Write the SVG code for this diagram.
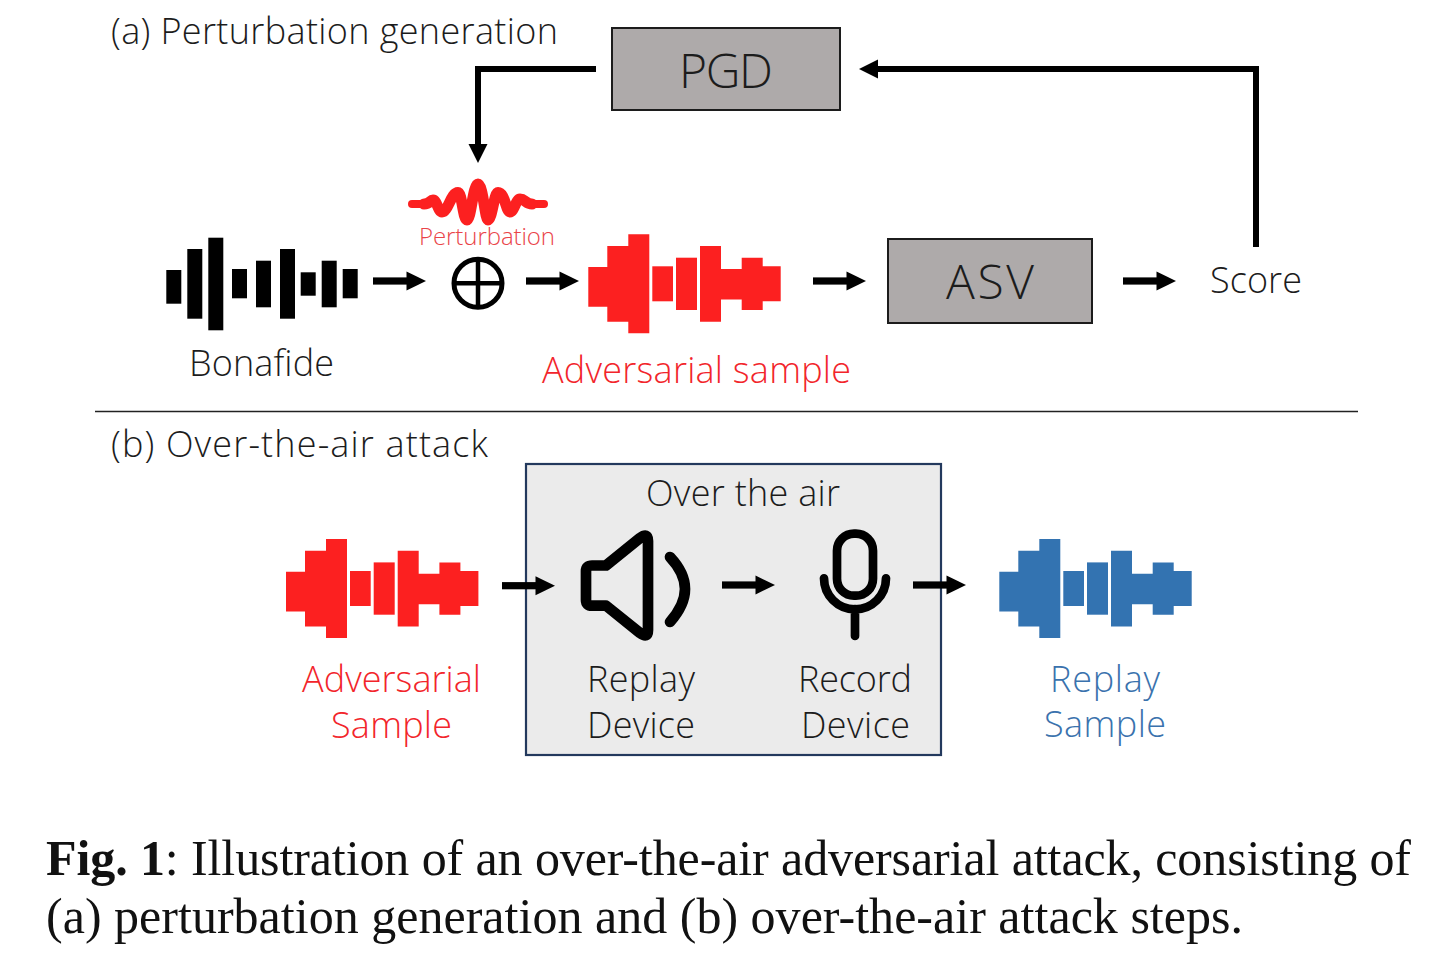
<svg xmlns="http://www.w3.org/2000/svg" xmlns:xlink="http://www.w3.org/1999/xlink" width="1444" height="964" viewBox="0 0 1444 964">
<style>
text{font-family:"Open Sans","Noto Sans","Liberation Sans",sans-serif;font-weight:300;font-size:36px;fill:#1c1c1c}
.r{fill:#f2252b}.b{fill:#3a72ad}
.cap{font-family:"Liberation Serif","Times New Roman",serif;font-weight:400;font-size:50px;fill:#111}
.cap .f{font-weight:700}
.box{fill:#aeaaaa;stroke:#1c1c1c;stroke-width:2}
.wire{fill:none;stroke:#000;stroke-width:6}
.ic{fill:none;stroke:#000;stroke-linecap:round;stroke-linejoin:round}
</style>
<defs>
<g id="wave">
<path d="M588.3,267H607.3V246H628.3V234.3H649.3V333.3H628.3V321.7H607.3V306.7H588.3Z"/>
<rect x="652.3" y="266.3" width="20.7" height="35"/>
<rect x="676" y="257.7" width="21" height="52.3"/>
<path d="M700,246H721V269H741.7V257.7H762.7V266.3H780.7V301.3H762.7V310H741.7V299.5H721V321.7H700Z"/>
</g>
<g id="arr"><rect x="0" y="-3.6" width="34" height="7.2"/><path d="M33.5,-9.5L53,0L33.5,9.5Z"/></g>
</defs>

<g id="connectors">
<path class="wire" d="M596,69H478V146"/>
<path d="M468.5,144H487.5L478,163Z"/>
<path class="wire" d="M1256,247V69H876"/>
<path d="M878,59.5V78.5L859,69Z"/>
<use href="#arr" x="373" y="281"/>
<use href="#arr" x="526" y="281"/>
<use href="#arr" x="813" y="281"/>
<use href="#arr" x="1123" y="281"/>
</g>

<g id="title-a"><text x="111" y="44" textLength="447">(a) Perturbation generation</text></g>
<g id="pgd"><rect class="box" x="612" y="28" width="228" height="82"/><text x="679" y="88" style="font-size:48px" textLength="94">PGD</text></g>
<g id="perturbation">
<path d="M412,204H428" fill="none" stroke="#fc2020" stroke-width="8" stroke-linecap="round"/>
<path d="M528,204H544" fill="none" stroke="#fc2020" stroke-width="8" stroke-linecap="round"/>
<path d="M424,204C430,204 430,200 433,200C437,200 438,212 442,212C448,212 451,192.5 458,192.5C462,192.5 463,220 467,220C471,220 473,184 478,184C483,184 485,220 488,220C492,220 494,192.5 498,192.5C505,192.5 506,212 510,212C514,212 516,199 520,199C525,199 526,204 532,204" fill="none" stroke="#fc2020" stroke-width="11" stroke-linecap="round" stroke-linejoin="round"/>
<text class="r" x="419" y="245" style="font-size:24px;fill:#ea4449" textLength="136">Perturbation</text>
</g>
<g id="bonafide">
<rect x="166.3" y="270" width="15" height="33.7"/>
<rect x="187.3" y="249" width="15" height="69.7"/>
<rect x="208.3" y="237.7" width="15" height="92.6"/>
<rect x="232" y="269" width="15" height="29.3"/>
<rect x="256" y="260.7" width="15" height="46.6"/>
<rect x="280" y="249" width="15" height="69.7"/>
<rect x="300.7" y="272.3" width="15" height="23.4"/>
<rect x="321.7" y="260.7" width="15" height="46.6"/>
<rect x="342.7" y="269" width="15" height="29.3"/>
<text x="189" y="376" textLength="145">Bonafide</text>
</g>
<g id="plus" class="ic">
<circle cx="478" cy="283.3" r="24" stroke-width="5"/>
<path d="M454,283.3H502M478,259.3V307.3" stroke-width="4.5" stroke-linecap="butt"/>
</g>
<g id="adversarial-a">
<use href="#wave" fill="#fc2020"/>
<text class="r" x="542" y="383" textLength="309">Adversarial sample</text>
</g>
<g id="asv"><rect class="box" x="888" y="239" width="204" height="84"/><text x="946" y="299" style="font-size:48px" textLength="88">ASV</text></g>
<g id="score"><text x="1210" y="293" textLength="92">Score</text></g>

<line id="divider" x1="95" y1="411.5" x2="1358" y2="411.5" stroke="#222" stroke-width="1.3"/>
<g id="title-b"><text x="111" y="457" textLength="377">(b) Over-the-air attack</text></g>

<g id="over-air">
<rect x="526" y="464" width="415" height="291" fill="#ebebeb" stroke="#23395d" stroke-width="2.2"/>
<text x="646" y="506" textLength="194">Over the air</text>
</g>
<g id="adversarial-b">
<use href="#wave" fill="#fc2020" transform="translate(-302.3,304.7)"/>
<text class="r" x="302" y="692" textLength="179">Adversarial</text>
<text class="r" x="331" y="738" textLength="121">Sample</text>
</g>
<g id="replay-device">
<path class="ic" stroke-width="10.7" d="M606,565.5H592Q586,565.5 586,571V600Q586,605.7 592,605.7H606L640,633Q648,639 648,630V541Q648,532 640,538Z"/>
<path class="ic" stroke-width="10.7" d="M670,557Q685,573 685,589Q685,605 670,622"/>
<text x="587" y="692" textLength="108">Replay</text>
<text x="587" y="738" textLength="108">Device</text>
</g>
<g id="record-device">
<rect class="ic" x="837" y="533.7" width="36" height="62" rx="17" stroke-width="8.7"/>
<path class="ic" stroke-width="8.7" d="M824,578.3A31,31 0 0 0 886,578.3M855,609V636"/>
<text x="798" y="692" textLength="114">Record</text>
<text x="801" y="738" textLength="109">Device</text>
</g>
<g id="replay-sample">
<use href="#wave" fill="#3373b1" transform="translate(411,304.7)"/>
<text class="b" x="1050" y="692" textLength="110">Replay</text>
<text class="b" x="1044" y="737" textLength="122">Sample</text>
</g>
<g id="connectors-b">
<use href="#arr" x="502" y="585.7"/>
<use href="#arr" x="722" y="585"/>
<use href="#arr" x="913" y="585"/>
</g>
<g id="caption">
<text class="cap" x="46" y="875" textLength="1365"><tspan class="f">Fig. 1</tspan>: Illustration of an over-the-air adversarial attack, consisting of</text>
<text class="cap" x="46" y="933" textLength="1197">(a) perturbation generation and (b) over-the-air attack steps.</text>
</g>
</svg>
